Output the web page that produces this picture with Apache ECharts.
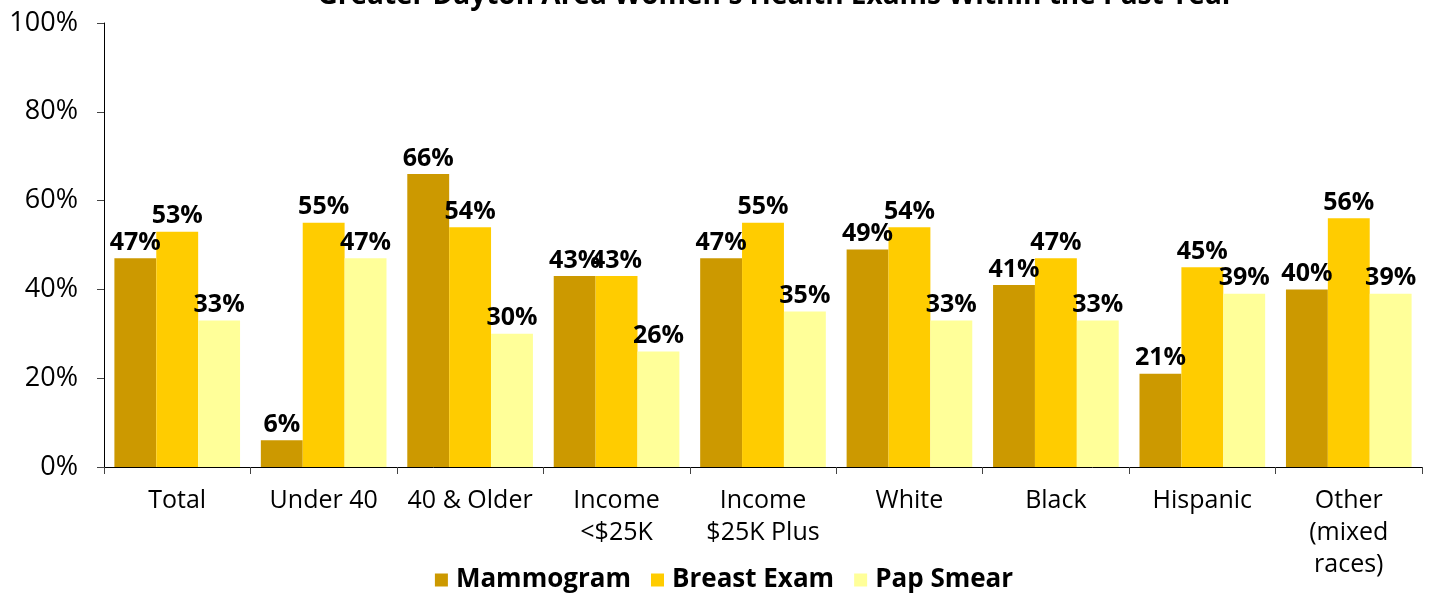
<!DOCTYPE html>
<html>
<head>
<meta charset="utf-8">
<script src="https://cdn.jsdelivr.net/npm/echarts@6/dist/echarts.min.js"></script>
<style>html,body{margin:0;padding:0;background:#fff;}#c{width:1448px;height:595px;}</style>
</head>
<body>
<div id="c"></div>
<script>
const categories = ['Total', 'Under 40', '40 & Older', 'Income\n<$25K', 'Income\n$25K Plus', 'White', 'Black', 'Hispanic', 'Other\n(mixed\nraces)'];
const mammogram = [47, 6, 66, 43, 47, 49, 41, 21, 40];
const breastExam = [53, 55, 54, 43, 55, 54, 47, 45, 56];
const papSmear = [33, 47, 30, 26, 35, 33, 33, 39, 39];
const seriesNames = ['Mammogram', 'Breast Exam', 'Pap Smear'];
const titleText = "Greater Dayton Area Women's Health Exams Within the Past Year";

const FONT = '"Open Sans", "Noto Sans", sans-serif';
const colors = ['#CC9900', '#FFCC00', '#FFFF99'];
const chart = echarts.init(document.getElementById('c'), null, {renderer: 'canvas'});
const mk = (name, data, i) => ({
  name, type: 'bar', data, barWidth: '28.6%', barGap: '0%',
  itemStyle: {color: colors[i]},
  label: {show: true, position: 'top', distance: 3, formatter: '{c}%', fontFamily: FONT, fontWeight: 'bold', fontSize: 25, color: '#000'}
});
chart.setOption({
  animation: false,
  title: {text: titleText, left: 771, textAlign: 'center', top: -23, textStyle: {fontFamily: FONT, fontWeight: 'bold', fontSize: 28, color: '#000'}},
  legend: {bottom: -3, left: 'center', itemWidth: 13, itemHeight: 13, itemGap: 20, icon: 'rect',
    textStyle: {fontFamily: FONT, fontWeight: 'bold', fontSize: 26, color: '#000', padding: [0, 0, 0, 3]}},
  grid: {left: 104, right: 26, top: 23, bottom: 128},
  xAxis: {type: 'category', data: categories,
    axisLine: {lineStyle: {color: '#000'}},
    axisTick: {show: true, length: 7, lineStyle: {color: '#444'}},
    axisLabel: {fontFamily: FONT, fontSize: 25, color: '#000', margin: 18, lineHeight: 32, interval: 0}},
  yAxis: {type: 'value', min: 0, max: 100, interval: 20,
    axisLine: {show: true, lineStyle: {color: '#000'}},
    axisTick: {show: true, length: 7, lineStyle: {color: '#444'}},
    splitLine: {show: false},
    axisLabel: {fontFamily: FONT, fontSize: 27, color: '#000', margin: 26, formatter: '{value}%'}},
  series: [mk(seriesNames[0], mammogram, 0), mk(seriesNames[1], breastExam, 1), mk(seriesNames[2], papSmear, 2)]
});
</script>
</body>
</html>
